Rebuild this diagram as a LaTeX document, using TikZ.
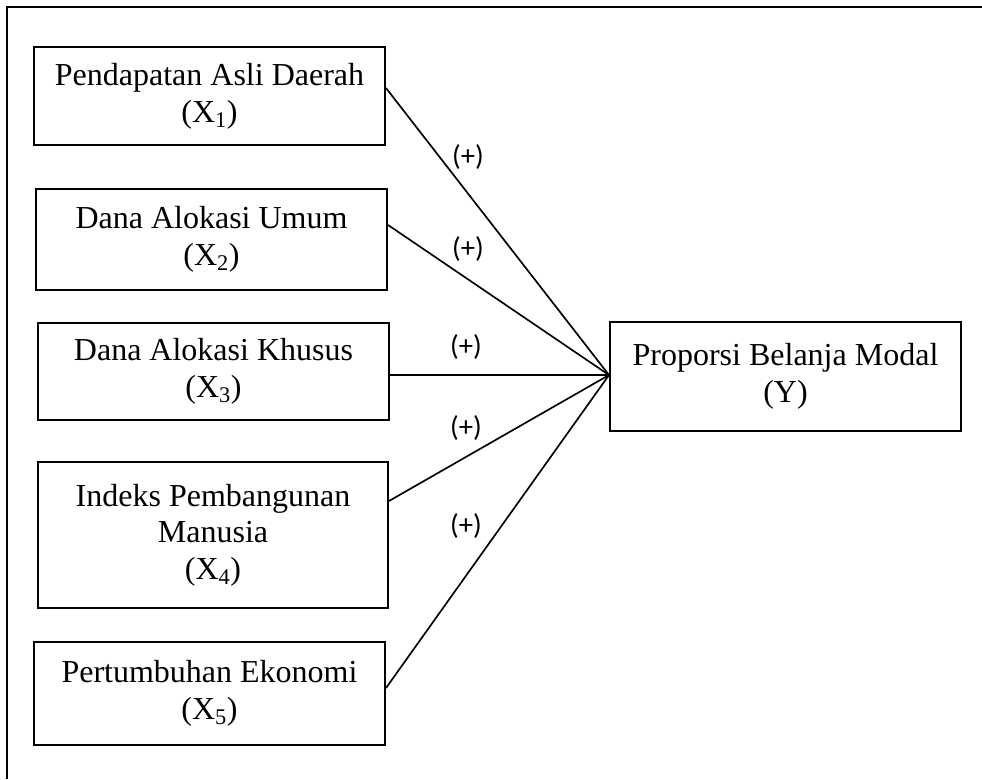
\documentclass[tikz,border=0pt]{standalone}
\usepackage{fontspec}
\setmainfont{Liberation Serif}
\newfontfamily\labfont{Carlito}
\begin{document}
\begin{tikzpicture}[x=0.75pt,y=-0.75pt,
  box/.style={draw,line width=1.5pt,inner sep=0pt,align=center,
    font=\fontsize{24}{27.5}\selectfont,minimum width=263.25pt},
  conn/.style={line width=1.25pt},
  plus/.style={font=\labfont\fontsize{21.5}{24}\selectfont,inner sep=0pt}]
\useasboundingbox (0,0) rectangle (982,779);
\draw[line width=2.2pt] (982,7) -- (7,7) -- (7,779);
\node[box,minimum height=73.5pt] (b1) at (209.5,96) {Pendapatan Asli Daerah\\(X\textsubscript{1})};
\node[box,minimum height=75.75pt] (b2) at (211.5,239.5) {Dana Alokasi Umum\\(X\textsubscript{2})};
\node[box,minimum height=72.75pt] (b3) at (213.5,371.5) {Dana Alokasi Khusus\\(X\textsubscript{3})};
\node[box,minimum height=109.5pt,minimum width=262.5pt] (b4) at (213,535) {Indeks Pembangunan\\Manusia\\(X\textsubscript{4})};
\node[box,minimum height=77.25pt] (b5) at (209.5,693.5) {Pertumbuhan Ekonomi\\(X\textsubscript{5})};
\node[box,minimum height=81.75pt] (y) at (785.5,376.5) {Proporsi Belanja Modal\\(Y)};
\coordinate (hub) at ([yshift=1.1pt]y.west);
\draw[conn] ([yshift=6pt]b1.east) -- (hub);
\draw[conn] ([yshift=10.9pt]b2.east) -- (hub);
\draw[conn] ([yshift=-2.6pt]b3.east) -- (hub);
\draw[conn] ([yshift=25.5pt]b4.east) -- (hub);
\draw[conn] ([yshift=4.1pt]b5.east) -- (hub);
\node[plus] (p1) at (468,157) {(+)};
\node[plus] (p2) at (468,249) {(+)};
\node[plus] (p3) at (466,347) {(+)};
\node[plus] (p4) at (466,428) {(+)};
\node[plus] (p5) at (466,526) {(+)};
\end{tikzpicture}
\end{document}
